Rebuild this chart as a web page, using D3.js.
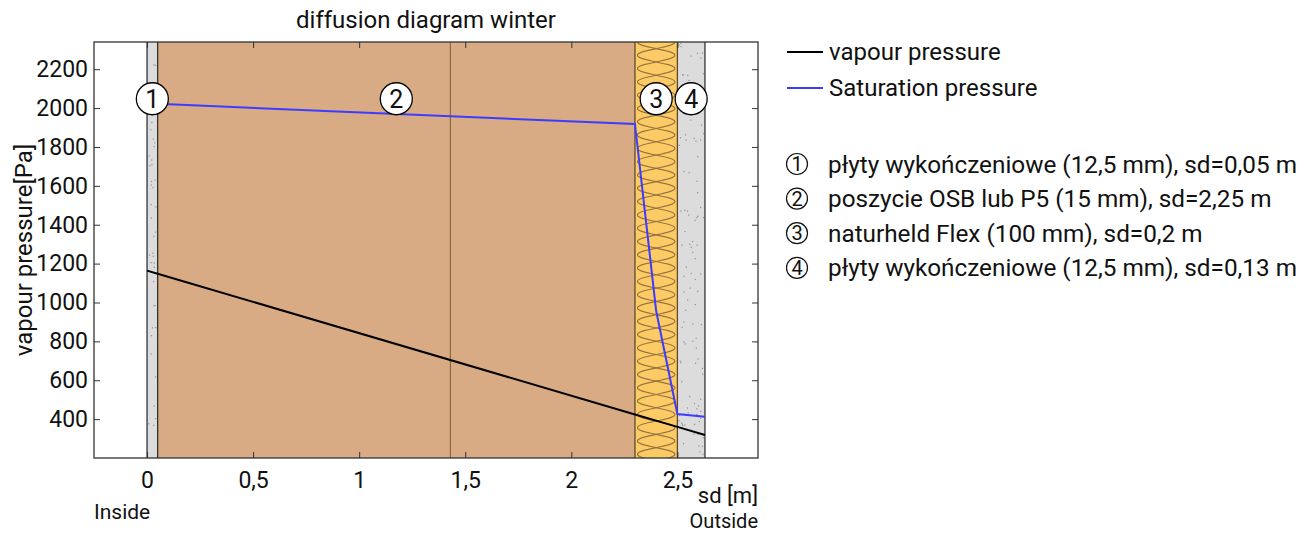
<!DOCTYPE html>
<html>
<head>
<meta charset="utf-8">
<script src="https://cdn.jsdelivr.net/npm/d3@7"></script>
<style>
  body { margin: 0; background: #fff; }
  text { font-family: Roboto, "DejaVu Sans", sans-serif; fill: #111; }
</style>
</head>
<body>
<div id="chart"></div>
<script>
// layers of the wall (inside -> outside)
const layerNames = [
  "płyty wykończeniowe (12,5 mm), sd=0,05 m",
  "poszycie OSB lub P5 (15 mm), sd=2,25 m",
  "naturheld Flex (100 mm), sd=0,2 m",
  "płyty wykończeniowe (12,5 mm), sd=0,13 m"
];
const layerSd = [0.05, 2.25, 0.2, 0.13];
const layerKind = ["board", "osb", "insulation", "board"];
const seamSd = 1.43;

// vapour pressure line
const vapourSd = [0, 0.05, 2.3, 2.5, 2.63];
const vapourPa = [1164, 1148, 424, 360, 318];

// saturation pressure line
const satSd = [0, 0.05, 2.3, 2.4, 2.5, 2.63];
const satPa = [2028, 2022, 1918, 956, 426, 412];

const xTicks = [0, 0.5, 1, 1.5, 2, 2.5];
const yTicks = [400, 600, 800, 1000, 1200, 1400, 1600, 1800, 2000, 2200];

const W = 1304, H = 533;
const margin = { top: 42, right: 546, bottom: 75, left: 94 },
    width = W - margin.left - margin.right,
    height = H - margin.top - margin.bottom;

const svg = d3.select("#chart")
  .append("svg")
  .attr("width", W)
  .attr("height", H);

svg.append("defs").append("clipPath").attr("id", "plotclip")
  .append("rect").attr("width", width).attr("height", height);

const g = svg.append("g")
  .attr("transform", `translate(${margin.left},${margin.top})`);
const inner = g.append("g").attr("clip-path", "url(#plotclip)");

const x = d3.scaleLinear().domain([-0.25, 2.88]).range([0, width]);
const y = d3.scaleLinear().domain([200, 2340]).range([height, 0]);

// layer extents
let acc = 0;
const layers = layerSd.map((sd, i) => {
  const l = { i, x0: acc, x1: acc + sd, kind: layerKind[i], name: layerNames[i] };
  acc += sd;
  return l;
});

const fills = { board: "#dcdcdc", osb: "#d8ab85", insulation: "#fdcb66" };

inner.selectAll("rect.layer")
  .data(layers)
  .join("rect")
    .attr("class", "layer")
    .attr("x", d => x(d.x0))
    .attr("y", 0)
    .attr("width", d => x(d.x1) - x(d.x0))
    .attr("height", height)
    .attr("fill", d => fills[d.kind]);

// speckles for the boards (deterministic)
let seed = 7;
function rnd() { seed = (seed * 16807) % 2147483647; return seed / 2147483647; }
layers.filter(d => d.kind === "board").forEach(d => {
  const w = x(d.x1) - x(d.x0);
  const n = Math.round(w * height / 110);
  for (let k = 0; k < n; k++) {
    inner.append("rect")
      .attr("x", x(d.x0) + 1 + rnd() * (w - 3))
      .attr("y", rnd() * (height - 2))
      .attr("width", 1.2).attr("height", 1.2)
      .attr("fill", "#8f8f8f");
  }
});

// insulation pattern: two crossing zigzags with rounded turns
layers.filter(d => d.kind === "insulation").forEach(d => {
  const L = x(d.x0) + 2.5, R = x(d.x1) - 2.5;
  const p = 13.3;
  [0, 1].forEach(s => {
    const pts = [];
    for (let k = -2; k * p <= height + 2 * p; k++) {
      pts.push([((k + s + 4) % 2 === 0) ? L : R, k * p]);
    }
    inner.append("path")
      .attr("d", d3.line().curve(d3.curveCardinal.tension(-0.3))(pts))
      .attr("fill", "none")
      .attr("stroke", "#94733e")
      .attr("stroke-width", 1.1);
  });
});

// seam in OSB
inner.append("line")
  .attr("x1", x(seamSd)).attr("x2", x(seamSd))
  .attr("y1", 0).attr("y2", height)
  .attr("stroke", "#8a6a3c").attr("stroke-width", 1.2);

// layer borders
const edgeSd = [0].concat(layers.map(d => d.x1));
inner.selectAll("line.edge")
  .data(edgeSd)
  .join("line")
    .attr("class", "edge")
    .attr("x1", d => x(d)).attr("x2", d => x(d))
    .attr("y1", 0).attr("y2", height)
    .attr("stroke", (d, i) => (i === 2 || i === 3) ? "#5e4a2a" : "#333")
    .attr("stroke-width", 1.3);

// lines
const line = d3.line().x(d => x(d[0])).y(d => y(d[1]));
inner.append("path")
  .attr("d", line(satSd.map((s, i) => [s, satPa[i]])))
  .attr("fill", "none").attr("stroke", "#3c3cff").attr("stroke-width", 2);
inner.append("path")
  .attr("d", line(vapourSd.map((s, i) => [s, vapourPa[i]])))
  .attr("fill", "none").attr("stroke", "#000").attr("stroke-width", 2);

// layer number circles
const cy = y(2048);
const circ = g.selectAll("g.num")
  .data(layers)
  .join("g")
    .attr("class", "num")
    .attr("transform", d => `translate(${x((d.x0 + d.x1) / 2)},${cy})`);
circ.append("circle").attr("r", 16).attr("fill", "#fff").attr("stroke", "#000").attr("stroke-width", 1.3);
circ.append("text")
  .attr("text-anchor", "middle").attr("dy", "0.36em")
  .style("font-size", "25px")
  .text(d => d.i + 1);

// frame and axes
g.append("rect")
  .attr("width", width).attr("height", height)
  .attr("fill", "none").attr("stroke", "#333").attr("stroke-width", 1.3);

const fmt = d => String(d).replace(".", ",");
g.append("g")
  .attr("transform", `translate(0,${height})`)
  .call(d3.axisBottom(x).tickValues(xTicks).tickFormat(fmt).tickSizeInner(-6).tickSizeOuter(0).tickPadding(14))
  .call(a => a.select(".domain").remove())
  .call(a => a.selectAll("text").style("font-size", "23px").attr("fill", "#111"));
g.append("g")
  .call(d3.axisTop(x).tickValues(xTicks).tickFormat("").tickSizeInner(-6).tickSizeOuter(0))
  .call(a => a.select(".domain").remove());
g.append("g")
  .call(d3.axisLeft(y).tickValues(yTicks).tickFormat(d3.format("d")).tickSizeInner(-6).tickSizeOuter(0).tickPadding(6))
  .call(a => a.select(".domain").remove())
  .call(a => a.selectAll("text").style("font-size", "23px").attr("fill", "#111"));
g.append("g")
  .attr("transform", `translate(${width},0)`)
  .call(d3.axisRight(y).tickValues(yTicks).tickFormat("").tickSizeInner(-6).tickSizeOuter(0))
  .call(a => a.select(".domain").remove());
g.selectAll(".tick line").attr("stroke", "#333");

// titles
svg.append("text")
  .attr("x", margin.left + width / 2).attr("y", 28)
  .attr("text-anchor", "middle").style("font-size", "24px")
  .text("diffusion diagram winter");
svg.append("text")
  .attr("transform", `translate(32,${margin.top + height / 2}) rotate(-90)`)
  .attr("text-anchor", "middle").style("font-size", "24px")
  .text("vapour pressure[Pa]");
svg.append("text")
  .attr("x", margin.left + width).attr("y", 503)
  .attr("text-anchor", "end").style("font-size", "22px")
  .text("sd [m]");
svg.append("text")
  .attr("x", margin.left).attr("y", 519)
  .style("font-size", "21px")
  .text("Inside");
svg.append("text")
  .attr("x", margin.left + width).attr("y", 528)
  .attr("text-anchor", "end").style("font-size", "20px")
  .text("Outside");

// legend
const legend = svg.append("g");
const series = [
  { name: "vapour pressure", color: "#000" },
  { name: "Saturation pressure", color: "#3c3cff" }
];
series.forEach((s, i) => {
  const yy = 52 + i * 36;
  legend.append("line").attr("x1", 787).attr("x2", 823).attr("y1", yy).attr("y2", yy)
    .attr("stroke", s.color).attr("stroke-width", 2);
  legend.append("text").attr("x", 829).attr("y", yy).attr("dy", "0.35em")
    .style("font-size", "24px").text(s.name);
});
layers.forEach((d, i) => {
  const yy = 164 + i * 34.6;
  legend.append("circle").attr("cx", 797).attr("cy", yy).attr("r", 10.5)
    .attr("fill", "#fff").attr("stroke", "#111").attr("stroke-width", 1.2);
  legend.append("text").attr("x", 797).attr("y", yy).attr("dy", "0.36em")
    .attr("text-anchor", "middle").style("font-size", "20px").text(i + 1);
  legend.append("text").attr("x", 828).attr("y", yy).attr("dy", "0.35em")
    .style("font-size", "24.3px").text(d.name);
});
</script>
</body>
</html>
